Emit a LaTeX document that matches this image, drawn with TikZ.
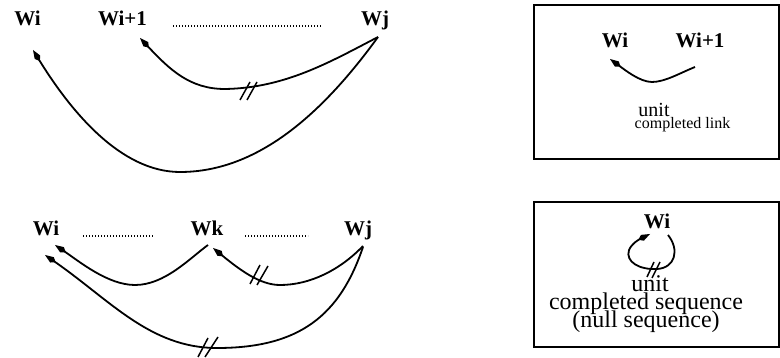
\documentclass[tikz,border=0pt]{standalone}
\usepackage{fontspec}
\setmainfont{Liberation Serif}
\usetikzlibrary{arrows.meta}
\begin{document}
\begin{tikzpicture}[x=1pt,y=-1pt,
  lab/.style={inner sep=0pt,anchor=base,font=\fontsize{21}{24}\selectfont\bfseries},
  txt/.style={inner sep=0pt,anchor=base},
  link/.style={line width=1.8pt,-{Kite[length=13pt,width=6.5pt,inset=4.5pt]}},
  dots/.style={line width=1.4pt,dash pattern=on 1.4pt off 1.6pt},
  cut/.style={line width=1.5pt},
  frame/.style={line width=1.8pt}]
\useasboundingbox (0,0) rectangle (780,358);
% ---------- top left ----------
\node[lab] (wa) at (27.5,26) {Wi};
\node[lab] (wb) at (122.5,26) {Wi+1};
\node[lab] (wc) at (375,26) {Wj};
\coordinate (d1a) at (173,26); \coordinate (d1b) at (322,26);
\draw[dots] (d1a) -- (d1b);
\coordinate (s1) at (378,37);
\coordinate (t1) at (140,38);
\coordinate (t2) at (33,50);
\draw[link] (s1) .. controls (330,62) and (285,88) .. (225,89)
            .. controls (190,89) and (170,70) .. (t1);
\draw[link] (s1) .. controls (325,110) and (260,172) .. (180,172)
            .. controls (120,172) and (70,110) .. (t2);
\draw[cut] (240,100) -- (250,82) (247,100) -- (257,82);
% ---------- bottom left ----------
\node[lab] (wd) at (46,236) {Wi};
\node[lab] (we) at (207,236) {Wk};
\node[lab] (wf) at (358,236) {Wj};
\draw[dots] (83,236) -- (153,236);
\draw[dots] (245,236) -- (308,236);
\coordinate (s2) at (208,245);
\coordinate (t3) at (55,245);
\coordinate (s3) at (363,246);
\coordinate (t4) at (213,248);
\coordinate (s4) at (363,247);
\coordinate (t5) at (45,255);
\draw[link] (s2) .. controls (190,258) and (165,285) .. (135,285)
            .. controls (108,285) and (80,262) .. (t3);
\draw[link] (s3) .. controls (340,270) and (310,285) .. (280,285)
            .. controls (260,285) and (240,270) .. (t4);
\draw[link] (s4) .. controls (340,315) and (300,348) .. (217,348)
            .. controls (150,348) and (110,300) .. (t5);
\draw[cut] (250,284) -- (260,265) (257,285) -- (268,266);
\draw[cut] (198,357) -- (208,338) (205,357) -- (218,337);
% ---------- top right box ----------
\draw[frame] (534,5) rectangle (779,159);
\node[lab] (wg) at (615,48) {Wi};
\node[lab] (wh) at (700,48) {Wi+1};
\coordinate (s5) at (695,67);
\coordinate (t6) at (610,59);
\draw[link] (s5) .. controls (680,73) and (665,82) .. (652,82)
            .. controls (640,82) and (625,70) .. (t6);
\node[txt,font=\fontsize{20}{22}\selectfont] (u1) at (654,117) {unit};
\node[txt,font=\fontsize{16}{18}\selectfont] (c1) at (682.5,129) {completed link};
% ---------- bottom right box ----------
\draw[frame] (534,202) rectangle (779,347);
\node[lab] (wk) at (657,229) {Wi};
\coordinate (s6) at (668,235);
\coordinate (t7) at (650,234);
\draw[link] (s6) .. controls (680,250) and (675,268) .. (657,269)
            .. controls (640,270) and (625,262) .. (629,250)
            .. controls (632,243) and (640,239) .. (t7);
\draw[cut] (647,277) -- (654,262) (652,278) -- (660,262);
\node[txt,font=\fontsize{24}{26}\selectfont] (u2) at (650,292) {unit};
\node[txt,font=\fontsize{24}{26}\selectfont] (c2) at (646,310) {completed sequence};
\node[txt,font=\fontsize{24}{26}\selectfont] (n2) at (646,328) {(null sequence)};
\end{tikzpicture}
\end{document}
